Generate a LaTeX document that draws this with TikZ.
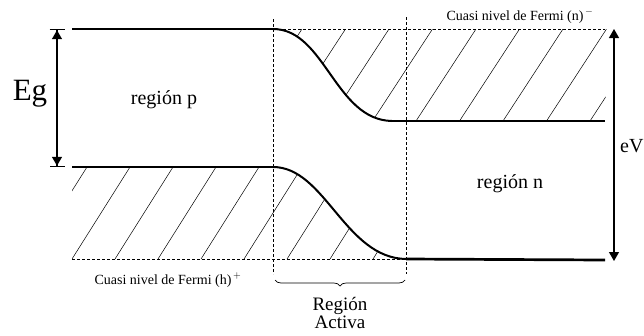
\documentclass[tikz,border=0pt]{standalone}
\usepackage{fontspec}
\setmainfont{Liberation Serif}
\usetikzlibrary{arrows.meta,positioning,decorations.pathreplacing}

\begin{document}
\begin{tikzpicture}[
  x=1pt, y=-1pt,
  every node/.style={font=\fontsize{20}{22}\selectfont, inner sep=0pt},
  band/.style={line width=2.7pt},
  bandcurve/.style={line width=2pt},
  fermi/.style={line width=0.9pt, dash pattern=on 3pt off 2pt},
  hatch/.style={line width=0.5pt},
  small/.style={font=\fontsize{14}{16}\selectfont},
  dim/.style={line width=1.2pt},
  tip/.style={Triangle[length=9pt,width=10pt]}
]
\useasboundingbox (0,0) rectangle (644,335);

% ---------- Key points ----------
\coordinate (cp) at (72,29);
\coordinate (ca) at (273,29);
\coordinate (cb) at (392,121);
\coordinate (cn) at (605,121);
\coordinate (vp) at (72,167);
\coordinate (va) at (273,167);
\coordinate (vb) at (406,259);
\coordinate (vn) at (605,260);

% ---------- Hatched regions ----------
\begin{scope}
\clip (ca) .. controls (325,29) and (335,120) .. (cb) -- (cn) -- (607,29) -- cycle;
\foreach \x in {242,285.5,...,600} \draw[hatch] (\x,121) -- ++(60,-92);
\end{scope}
\begin{scope}
\clip (vp) -- (va) .. controls (325,167) and (345,258) .. (vb) -- (72,259) -- cycle;
\foreach \x in {29,72,...,420} \draw[hatch] (\x,259) -- ++(58,-92);
\end{scope}

% ---------- Bands ----------
\draw[band] (cp) -- (ca);
\draw[bandcurve] (ca) .. controls (325,29) and (335,120) .. (cb);
\draw[band] (cb) -- (cn);
\draw[band] (vp) -- (va);
\draw[bandcurve] (va) .. controls (325,167) and (345,258) .. (vb);
\draw[band] (vb) -- (vn);

% ---------- Quasi Fermi levels and active region limits ----------
\draw[fermi] (ca) -- (605,29);
\draw[fermi] (72,259) -- (vb);
\draw[fermi] (273,19) -- (273,274);
\draw[fermi] (406,17) -- (406,274);

% ---------- Dimensions ----------
\draw[dim, {Bar[width=15pt,sep=0pt]Triangle[length=9pt,width=10pt]}-{Triangle[length=9pt,width=10pt]Bar[width=15pt,sep=0pt]}] (57,29) -- (57,167);
\draw[dim, {Triangle[length=9pt,width=10pt]}-{Triangle[length=9pt,width=10pt]}] (614,29) -- (614,261);
\draw[line width=0.7pt, decorate, decoration={brace, amplitude=6pt}] (405,280) -- (275,280);

% ---------- Labels ----------
\node[font=\fontsize{31}{33}\selectfont] (eg) at (30,94) {Eg};
\node (regp) at (164,100) {región p};
\node (regn) at (510,184) {región n};
\node[anchor=west] (ev) at (620,146) {eV};
\node[small] (fn) at (520,16) {Cuasi nivel de Fermi (n)$^{\,-}$};
\node[small] (fh) at (168,280) {Cuasi nivel de Fermi (h)$^{\,+}$};
\node[align=center, font=\fontsize{19}{18}\selectfont] (act) at (340,313) {Región\\Activa};
\end{tikzpicture}
\end{document}
